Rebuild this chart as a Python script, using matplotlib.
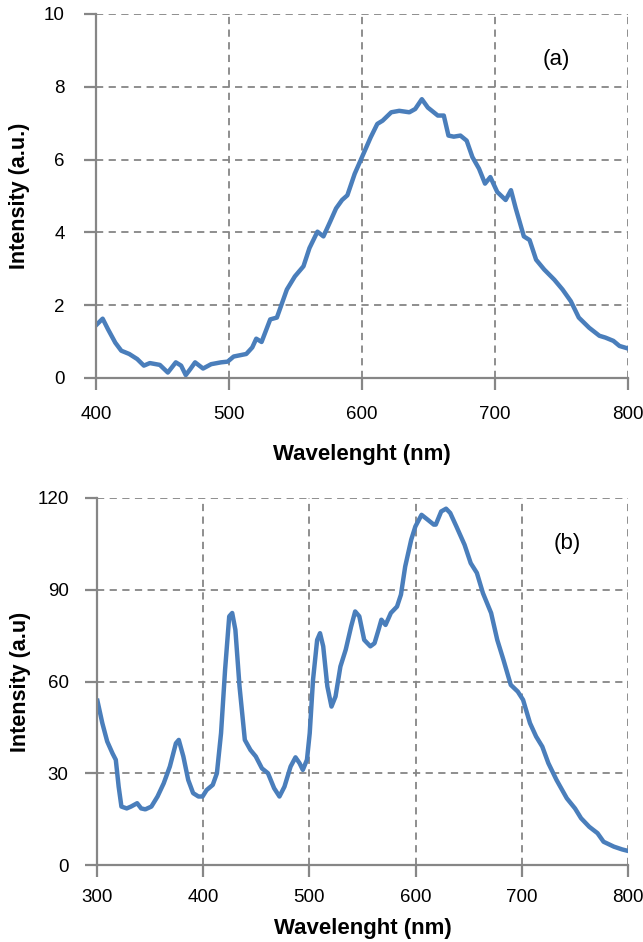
import matplotlib.pyplot as plt

plt.rcParams['font.family'] = ['Liberation Sans', 'DejaVu Sans']

# (a) widmo
wl_a = [400.6, 405, 409, 414.5, 419, 425, 431, 436, 440.5, 448, 454, 460, 464, 467.5,
        471, 474.5, 480.5, 486.6, 494, 499, 503.5, 513, 517.5, 520.5, 524.5, 531, 536,
        543.5, 549.5, 556, 560.5, 566.5, 571, 576, 580.5, 585, 589, 594.5, 600.5, 606.5,
        611.5, 615.5, 622, 628, 635.6, 640, 645, 649.5, 657, 661.5, 665, 669, 674, 678.7,
        683, 688, 692.5, 696.5, 701.7, 708, 712, 715.6, 721.7, 726, 730.9, 737, 744.6,
        750.8, 757, 763, 770.8, 778.5, 783, 789, 793.6, 800]
int_a = [1.47, 1.63, 1.34, 0.97, 0.75, 0.66, 0.52, 0.34, 0.41, 0.36, 0.15, 0.43, 0.34, 0.08,
         0.25, 0.43, 0.26, 0.38, 0.43, 0.45, 0.59, 0.66, 0.84, 1.08, 0.99, 1.61, 1.66,
         2.43, 2.79, 3.07, 3.57, 4.02, 3.89, 4.29, 4.66, 4.89, 5.02, 5.61, 6.11, 6.61,
         6.98, 7.07, 7.30, 7.34, 7.30, 7.39, 7.66, 7.43, 7.21, 7.21, 6.66, 6.63, 6.66, 6.52,
         6.07, 5.75, 5.34, 5.52, 5.11, 4.89, 5.16, 4.66, 3.89, 3.79, 3.25, 2.98, 2.70,
         2.43, 2.11, 1.66, 1.38, 1.16, 1.11, 1.02, 0.88, 0.81]

# (b) widmo
wl_b = [300.4, 305, 309.6, 314.6, 317.7, 320.4, 323, 328, 332, 337.8, 341.6, 345.5, 351.2,
        357, 362.8, 368.6, 374.3, 377, 381.3, 385.9, 390.5, 395.5, 399.4, 403.2, 409,
        412.9, 416.8, 420.6, 424.5, 427.3, 430.3, 434.2, 439.2, 444.5, 449.5, 455.3, 461,
        466.8, 471.8, 476.5, 482.3, 486.9, 490.7, 493.8, 497.7, 500.3, 503.4, 507.3, 510,
        513, 516.9, 520.8, 524.6, 529.2, 534.2, 539.3, 543.1, 547, 551.6, 557.4, 561.3,
        565.1, 567.8, 571.7, 576.7, 582.5, 586.2, 590.2, 595.9, 599.8, 605.6, 611.4,
        617.1, 619, 624.1, 628.7, 632.6, 638.4, 646.1, 651.9, 657.7, 663.4, 671.1, 676.9,
        682.7, 689.6, 696.2, 701.2, 707.7, 713.5, 719.3, 725, 732.7, 742.4, 750.1, 755.8,
        763.5, 771.3, 777, 786.7, 794.4, 800]
int_b = [53.7, 46.4, 40.4, 36.5, 34.4, 25.6, 19.1, 18.5, 19.1, 20.2, 18.5, 18.2, 19.1,
         22.4, 26.7, 32.2, 39.8, 40.9, 35.5, 27.8, 23.5, 22.4, 22.4, 24.5, 26.2,
         30.0, 43.1, 63.8, 81.3, 82.4, 76.9, 58.4, 40.9, 37.6, 35.5, 31.6, 30.0,
         25.1, 22.4, 25.6, 32.2, 35.2, 33.3, 31.1, 34.4, 43.1, 60.5, 73.6, 75.8,
         71.5, 58.4, 51.8, 55.1, 64.9, 70.4, 78.0, 82.9, 81.3, 73.6, 71.5, 72.5,
         76.9, 80.2, 78.5, 82.4, 84.5, 88.4, 97.6, 106.4, 110.7, 114.5, 112.9,
         111.3, 111.3, 115.6, 116.5, 115.1, 110.7, 104.7, 98.7, 95.5, 88.9, 82.4, 73.6,
         67.1, 58.9, 56.7, 54.0, 46.4, 42.0, 38.7, 33.3, 27.8, 21.8, 18.5, 15.3,
         12.5, 10.4, 7.6, 6.0, 5.1, 4.6]

kolor = '#4a7ebb'
szary = '#868686'

fig = plt.figure(figsize=(6.43, 9.42), dpi=100)
ax1 = fig.add_axes([96/643, 1-378/942, 532/643, 364/942])
ax2 = fig.add_axes([97/643, 1-865/942, 531/643, 367/942])


def styl(ax, xt, yt, ylab, tag, tag_xy, xpad, ypad):
    ax.set_xlim(xt[0], xt[-1])
    ax.set_ylim(yt[0], yt[-1])
    ax.set_xticks(xt)
    ax.set_yticks(yt)
    ax.grid(True, color=szary, linestyle=(0, (4, 3)), linewidth=1.3)
    ax.set_axisbelow(True)
    for s in ['top', 'right']:
        ax.spines[s].set_visible(False)
    for s in ['left', 'bottom']:
        ax.spines[s].set_color(szary)
        ax.spines[s].set_linewidth(1.6)
    ax.tick_params(direction='out', length=8.5, width=1.6, color=szary, labelsize=13.5)
    ax.tick_params(axis='x', pad=xpad)
    ax.tick_params(axis='y', pad=ypad)
    ax.set_xlabel('Wavelenght (nm)', fontsize=16, fontweight='bold')
    ax.set_ylabel(ylab, fontsize=15.5, fontweight='bold')
    ax.text(tag_xy[0], tag_xy[1], tag, transform=ax.transAxes, fontsize=16,
            ha='center', va='center')


ax1.plot(wl_a, int_a, color=kolor, linewidth=3.2, solid_joinstyle='round')
styl(ax1, [400, 500, 600, 700, 800], [0, 2, 4, 6, 8, 10], 'Intensity (a.u.)', '(a)',
     (0.865, 0.874), 12, 14)
ax1.xaxis.set_label_coords(0.5, -0.18)
ax1.yaxis.set_label_coords(-0.125, 0.5)

ax2.plot(wl_b, int_b, color=kolor, linewidth=3.2, solid_joinstyle='round')
styl(ax2, [300, 400, 500, 600, 700, 800], [0, 30, 60, 90, 120], 'Intensity (a.u)', '(b)',
     (0.885, 0.877), 9, 12)
ax2.xaxis.set_label_coords(0.5, -0.145)
ax2.yaxis.set_label_coords(-0.125, 0.5)

fig.savefig('out.png', dpi=100)
